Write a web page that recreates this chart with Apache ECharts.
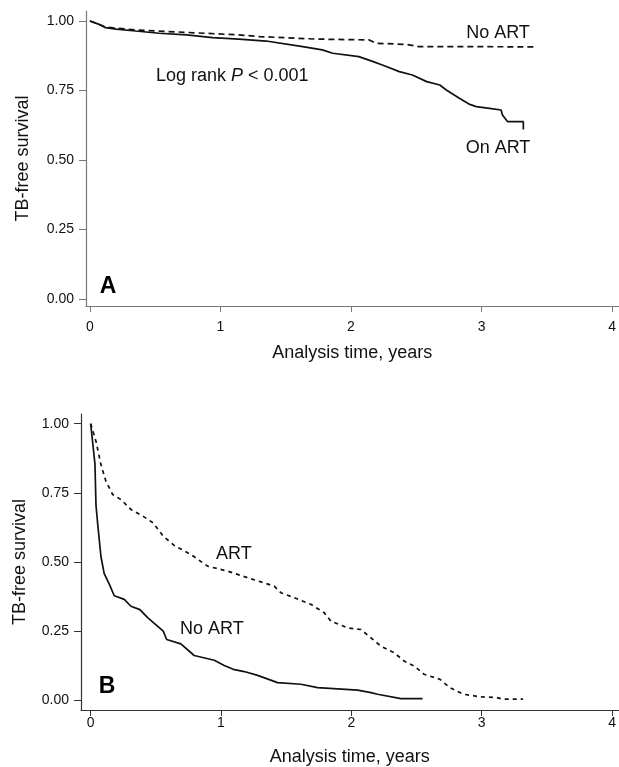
<!DOCTYPE html>
<html>
<head>
<meta charset="utf-8">
<script src="https://cdn.jsdelivr.net/npm/echarts@6/dist/echarts.min.js"></script>
<style>
  html, body { margin: 0; padding: 0; background: #fff; }
  #chart { width: 619px; height: 767px; }
</style>
</head>
<body>
<div id="chart"></div>
<script>
// panel A: TB-free survival, on ART vs no ART
const aOnArtT = [0, 0.07, 0.12, 0.2, 0.35, 0.53, 0.74, 0.94, 1.14, 1.35, 1.63, 1.78, 1.86, 2.06, 2.17, 2.24, 2.37, 2.47, 2.58, 2.68, 2.73, 2.83, 2.91, 2.96, 3.06, 3.15, 3.16, 3.2, 3.32, 3.32]
const aOnArtS = [1.0, 0.988, 0.976, 0.971, 0.964, 0.956, 0.95, 0.94, 0.935, 0.928, 0.908, 0.896, 0.884, 0.872, 0.854, 0.842, 0.818, 0.806, 0.782, 0.77, 0.752, 0.722, 0.7, 0.692, 0.686, 0.68, 0.662, 0.638, 0.638, 0.61]
const aNoArtT = [0, 0.07, 0.12, 0.35, 0.74, 1.14, 1.3, 1.73, 2.14, 2.19, 2.42, 2.52, 2.73, 3.4]
const aNoArtS = [1.0, 0.988, 0.978, 0.968, 0.959, 0.95, 0.944, 0.935, 0.932, 0.92, 0.916, 0.908, 0.908, 0.907]

// panel B
const bArtT = [0, 0.041, 0.079, 0.117, 0.169, 0.232, 0.309, 0.403, 0.48, 0.557, 0.641, 0.769, 0.897, 1.051, 1.204, 1.306, 1.408, 1.459, 1.561, 1.689, 1.791, 1.843, 1.971, 2.073, 2.15, 2.226, 2.328, 2.405, 2.482, 2.558, 2.679, 2.755, 2.857, 2.985, 3.113, 3.164, 3.317]
const bArtS = [1.0, 0.936, 0.852, 0.792, 0.744, 0.726, 0.69, 0.665, 0.641, 0.593, 0.56, 0.527, 0.485, 0.467, 0.443, 0.428, 0.413, 0.389, 0.371, 0.347, 0.317, 0.286, 0.262, 0.256, 0.226, 0.196, 0.172, 0.142, 0.124, 0.094, 0.076, 0.046, 0.022, 0.013, 0.01, 0.004, 0.004]
const bNoArtT = [0, 0.033, 0.041, 0.054, 0.079, 0.104, 0.143, 0.181, 0.258, 0.309, 0.378, 0.437, 0.557, 0.583, 0.692, 0.794, 0.948, 1.025, 1.094, 1.178, 1.281, 1.434, 1.613, 1.741, 2.048, 2.15, 2.201, 2.38, 2.546]
const bNoArtS = [1.0, 0.855, 0.705, 0.638, 0.52, 0.458, 0.42, 0.378, 0.365, 0.34, 0.328, 0.299, 0.25, 0.22, 0.204, 0.162, 0.145, 0.126, 0.112, 0.104, 0.09, 0.064, 0.058, 0.046, 0.037, 0.028, 0.022, 0.006, 0.006]

// tick labels
const xTicks = [0, 1, 2, 3, 4]
const yTicks = [0, 0.25, 0.5, 0.75, 1]

// text notes: [grid, time, survival, text]
const notes = [
  [0, 3.126, 0.957, 'No ART'],
  [0, 3.126, 0.543, 'On ART'],
  [1, 1.099, 0.527, 'ART'],
  [1, 0.93, 0.256, 'No ART']
]

const font = 'Liberation Sans, Arial, Helvetica, sans-serif'
const zip = (xs, ys) => xs.map((x, i) => [x, ys[i]])

const chart = echarts.init(document.getElementById('chart'))

const makeX = (gridIndex, min, labelMargin, lineColor) => ({
  type: 'value',
  gridIndex,
  min,
  max: 4.05,
  name: 'Analysis time, years',
  nameLocation: 'middle',
  nameGap: 38,
  nameTextStyle: { fontSize: 18, color: '#111', fontFamily: font },
  axisLine: { show: true, onZero: false, lineStyle: { color: lineColor, width: 1.2 } },
  axisTick: { show: true, length: 6, customValues: xTicks, lineStyle: { color: lineColor } },
  axisLabel: { customValues: xTicks, margin: labelMargin, fontSize: 14, color: '#111', fontFamily: font },
  splitLine: { show: false }
})

const makeY = (gridIndex, min, max, nameGap, lineColor) => ({
  type: 'value',
  gridIndex,
  min,
  max,
  name: 'TB-free survival',
  nameLocation: 'middle',
  nameGap,
  nameTextStyle: { fontSize: 18, color: '#111', fontFamily: font },
  axisLine: { show: true, onZero: false, lineStyle: { color: lineColor, width: 1.2 } },
  axisTick: { show: true, length: 7, customValues: yTicks, lineStyle: { color: lineColor } },
  axisLabel: {
    customValues: yTicks,
    margin: 12,
    fontSize: 14,
    color: '#111',
    fontFamily: font,
    formatter: (v) => v.toFixed(2)
  },
  splitLine: { show: false }
})

const makeLine = (idx, data, dashed) => ({
  type: 'line',
  xAxisIndex: idx,
  yAxisIndex: idx,
  data,
  showSymbol: false,
  symbol: 'none',
  lineStyle: { color: '#111', width: 1.7, type: dashed ? dashed : 'solid' },
  silent: true
})

const option = {
  animation: false,
  backgroundColor: '#fff',
  grid: [
    { left: 86, right: 0, top: 11, height: 295 },
    { left: 81, right: 0, top: 414, height: 297 }
  ],
  xAxis: [makeX(0, -0.03, 14, '#777'), makeX(1, -0.074, 6, '#333')],
  yAxis: [makeY(0, -0.025, 1.036, 54, '#777'), makeY(1, -0.035, 1.035, 52, '#333')],
  series: [
    makeLine(0, zip(aNoArtT, aNoArtS), [6, 4]),
    makeLine(0, zip(aOnArtT, aOnArtS)),
    makeLine(1, zip(bArtT, bArtS), [4, 4]),
    makeLine(1, zip(bNoArtT, bNoArtS))
  ]
}

chart.setOption(option)

// 注释文字按数据坐标定位
const graphics = notes.map(([g, t, s, txt]) => {
  const p = chart.convertToPixel({ gridIndex: g }, [t, s])
  return {
    type: 'text',
    x: p[0],
    y: p[1],
    style: { text: txt, fontSize: 18, fill: '#111', fontFamily: font, align: 'center', verticalAlign: 'middle' }
  }
})

const logPos = chart.convertToPixel({ gridIndex: 0 }, [0.506, 0.802])
graphics.push({
  type: 'text',
  x: logPos[0],
  y: logPos[1],
  style: {
    text: '{n|Log rank }{i|P}{n| < 0.001}',
    verticalAlign: 'middle',
    rich: {
      n: { fontSize: 18, fill: '#111', fontFamily: font },
      i: { fontSize: 18, fill: '#111', fontFamily: font, fontStyle: 'italic' }
    }
  }
})

const panelA = chart.convertToPixel({ gridIndex: 0 }, [0.138, 0.043])
const panelB = chart.convertToPixel({ gridIndex: 1 }, [0.125, 0.051])
;[[panelA, 'A'], [panelB, 'B']].forEach(([p, txt]) => {
  graphics.push({
    type: 'text',
    x: p[0],
    y: p[1],
    style: { text: txt, fontSize: 23, fontWeight: 'bold', fill: '#000', fontFamily: font, align: 'center', verticalAlign: 'middle' }
  })
})

chart.setOption({ graphic: graphics })
</script>
</body>
</html>
